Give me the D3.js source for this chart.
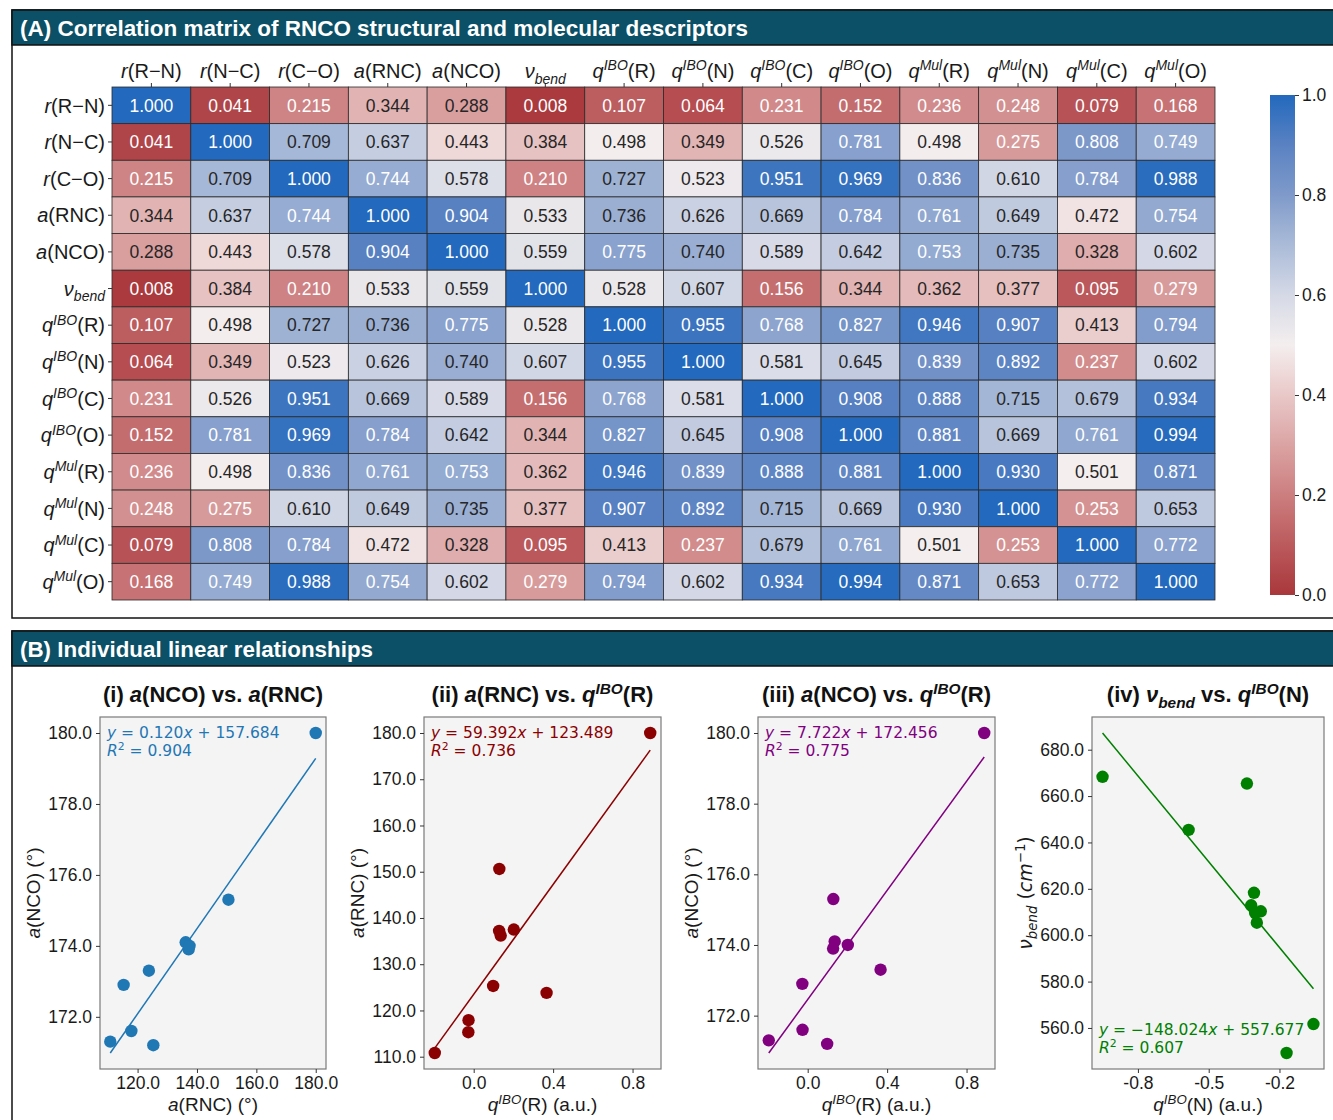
<!DOCTYPE html>
<html>
<head>
<meta charset="utf-8">
<script src="https://cdn.jsdelivr.net/npm/d3@7"></script>
<style>
  body { margin: 0; background: #fff; }
  svg text { font-family: "Liberation Sans", Arial, sans-serif; }
</style>
</head>
<body>
<svg id="fig" width="1333" height="1120"></svg>
<script>
// ---- data ----
var VARS = ["r(R−N)", "r(N−C)", "r(C−O)", "a(RNC)", "a(NCO)", "ν_bend",
            "q^IBO(R)", "q^IBO(N)", "q^IBO(C)", "q^IBO(O)",
            "q^Mul(R)", "q^Mul(N)", "q^Mul(C)", "q^Mul(O)"];

var CORR = [
  [1.000, 0.041, 0.215, 0.344, 0.288, 0.008, 0.107, 0.064, 0.231, 0.152, 0.236, 0.248, 0.079, 0.168],
  [0.041, 1.000, 0.709, 0.637, 0.443, 0.384, 0.498, 0.349, 0.526, 0.781, 0.498, 0.275, 0.808, 0.749],
  [0.215, 0.709, 1.000, 0.744, 0.578, 0.210, 0.727, 0.523, 0.951, 0.969, 0.836, 0.610, 0.784, 0.988],
  [0.344, 0.637, 0.744, 1.000, 0.904, 0.533, 0.736, 0.626, 0.669, 0.784, 0.761, 0.649, 0.472, 0.754],
  [0.288, 0.443, 0.578, 0.904, 1.000, 0.559, 0.775, 0.740, 0.589, 0.642, 0.753, 0.735, 0.328, 0.602],
  [0.008, 0.384, 0.210, 0.533, 0.559, 1.000, 0.528, 0.607, 0.156, 0.344, 0.362, 0.377, 0.095, 0.279],
  [0.107, 0.498, 0.727, 0.736, 0.775, 0.528, 1.000, 0.955, 0.768, 0.827, 0.946, 0.907, 0.413, 0.794],
  [0.064, 0.349, 0.523, 0.626, 0.740, 0.607, 0.955, 1.000, 0.581, 0.645, 0.839, 0.892, 0.237, 0.602],
  [0.231, 0.526, 0.951, 0.669, 0.589, 0.156, 0.768, 0.581, 1.000, 0.908, 0.888, 0.715, 0.679, 0.934],
  [0.152, 0.781, 0.969, 0.784, 0.642, 0.344, 0.827, 0.645, 0.908, 1.000, 0.881, 0.669, 0.761, 0.994],
  [0.236, 0.498, 0.836, 0.761, 0.753, 0.362, 0.946, 0.839, 0.888, 0.881, 1.000, 0.930, 0.501, 0.871],
  [0.248, 0.275, 0.610, 0.649, 0.735, 0.377, 0.907, 0.892, 0.715, 0.669, 0.930, 1.000, 0.253, 0.653],
  [0.079, 0.808, 0.784, 0.472, 0.328, 0.095, 0.413, 0.237, 0.679, 0.761, 0.501, 0.253, 1.000, 0.772],
  [0.168, 0.749, 0.988, 0.754, 0.602, 0.279, 0.794, 0.602, 0.934, 0.994, 0.871, 0.653, 0.772, 1.000]
];
var CBAR_TICKS = [0, 0.2, 0.4, 0.6, 0.8, 1.0];

// one entry per molecule (panels i-iii)
var aRNC  = [180.0, 150.6, 136.2, 137.2, 137.5, 123.8, 125.3, 117.9, 115.3, 110.8];
var aNCO  = [180.0, 175.3, 174.1, 173.9, 174.0, 173.3, 171.2, 171.6, 172.9, 171.3];
var qIboR = [0.889, 0.129, 0.136, 0.128, 0.202, 0.367, 0.098, -0.026, -0.027, -0.196];
// panel iv
var qIboN = [-0.875, -0.365, -0.571, -0.340, -0.350, -0.316, -0.336, -0.330, -0.225, -0.130];
var vBend = [668.3, 665.4, 645.4, 618.3, 612.9, 610.3, 609.6, 605.4, 549.2, 561.7];

var FIT_SLOPE = [0.120, 59.392, 7.722, -148.024];
var FIT_INTERCEPT = [157.684, 123.489, 172.456, 557.677];
var FIT_R2 = [0.904, 0.736, 0.775, 0.607];

var X_TICKS = [[120, 140, 160, 180], [0, 0.4, 0.8], [0, 0.4, 0.8], [-0.75, -0.5, -0.25]];
var X_TICK_TEXT = [null, null, null, ["-0.8", "-0.5", "-0.2"]];
var Y_TICKS = [[172, 174, 176, 178, 180], [110, 120, 130, 140, 150, 160, 170, 180],
               [172, 174, 176, 178, 180], [560, 580, 600, 620, 640, 660, 680]];

// ---- styles ----
var HEADER_FILL = "#0b5066";
var VLAG_R = ["#a9373b", "#bb5a5d", "#cc7e7f", "#dba3a3", "#e9c8c8", "#f4eeee",
              "#d5d9e6", "#aabbd8", "#7f9aca", "#5a82c2", "#2369bd"];
var MONO = "'DejaVu Sans', sans-serif";

var svg = d3.select("#fig");
svg.append("rect").attr("width", 1333).attr("height", 1120).attr("fill", "#fff");

var color = d3.scaleLinear()
    .domain(d3.range(VLAG_R.length).map(function(i) { return i / (VLAG_R.length - 1); }))
    .range(VLAG_R)
    .interpolate(d3.interpolateRgb);

// split a label like "q^IBO(R)" or "ν_bend" into styled pieces
function parseVar(s) {
    var m = s.match(/^(.)(?:\^([A-Za-z]+)|_([A-Za-z]+))?(.*)$/);
    var out = [{t: m[1], i: true}];
    if (m[2]) out.push({t: m[2], i: true, s: "sup"});
    if (m[3]) out.push({t: m[3], i: true, s: "sub"});
    if (m[4]) out.push({t: m[4]});
    return out;
}

// write styled pieces into a text element
function richText(text, parts, fs) {
    var shift = 0;
    parts.forEach(function(p) {
        var target = p.s === "sup" ? -0.38 * fs : p.s === "sub" ? 0.28 * fs : 0;
        var ts = text.append("tspan").text(p.t)
            .attr("font-size", p.s ? fs * 0.7 : fs);
        if (target - shift !== 0) ts.attr("dy", target - shift);
        if (p.i) ts.attr("font-style", "italic");
        if (p.f) ts.style("font-family", p.f);
        shift = target;
    });
    return text;
}

function luminance(c) {
    var rgb = d3.rgb(c);
    var lin = [rgb.r, rgb.g, rgb.b].map(function(v) {
        v /= 255;
        return v <= 0.03928 ? v / 12.92 : Math.pow((v + 0.055) / 1.055, 2.4);
    });
    return 0.2126 * lin[0] + 0.7152 * lin[1] + 0.0722 * lin[2];
}

// ---- panel frames ----
function panelFrame(y, h, title, titleLen) {
    svg.append("rect").attr("x", 12).attr("y", y).attr("width", 1340).attr("height", h)
        .attr("fill", "#fff").attr("stroke", "#111").attr("stroke-width", 1.5);
    svg.append("rect").attr("x", 12).attr("y", y).attr("width", 1340).attr("height", 35)
        .attr("fill", HEADER_FILL).attr("stroke", "#111").attr("stroke-width", 1.5);
    svg.append("text").attr("x", 20).attr("y", y + 25.5)
        .attr("fill", "#fff").attr("font-weight", "bold").attr("font-size", 22)
        .style("font-family", "'Liberation Sans Narrow', 'Liberation Sans', sans-serif")
        .attr("textLength", titleLen).attr("lengthAdjust", "spacingAndGlyphs")
        .text(title);
}
panelFrame(10, 608, "(A) Correlation matrix of RNCO structural and molecular descriptors", 728);
panelFrame(631, 520, "(B) Individual linear relationships", 353);

// ---- heatmap ----
var hx = d3.scaleBand().domain(d3.range(VARS.length)).range([112, 1215]);
var hy = d3.scaleBand().domain(d3.range(VARS.length)).range([87, 600]);
var hm = svg.append("g");

var cells = [];
CORR.forEach(function(row, r) {
    row.forEach(function(v, c) { cells.push({r: r, c: c, v: v}); });
});

hm.selectAll("rect.cell").data(cells).enter().append("rect")
    .attr("class", "cell")
    .attr("x", function(d) { return hx(d.c); })
    .attr("y", function(d) { return hy(d.r); })
    .attr("width", hx.bandwidth())
    .attr("height", hy.bandwidth())
    .attr("fill", function(d) { return color(d.v); })
    .attr("stroke", "#2a2a2a").attr("stroke-width", 0.8);

hm.selectAll("text.val").data(cells).enter().append("text")
    .attr("class", "val")
    .attr("x", function(d) { return hx(d.c) + hx.bandwidth() / 2; })
    .attr("y", function(d) { return hy(d.r) + hy.bandwidth() / 2; })
    .attr("dy", "0.36em")
    .attr("text-anchor", "middle")
    .attr("font-size", 17.5)
    .attr("fill", function(d) { return luminance(color(d.v)) > 0.408 ? "#262626" : "#fff"; })
    .text(function(d) { return d3.format(".3f")(d.v); });

var LABEL_FS = 20;
var colAxis = hm.append("g").attr("transform", "translate(0,87)")
    .call(d3.axisTop(hx).tickSize(4).tickFormat(""));
var rowAxis = hm.append("g").attr("transform", "translate(112,0)")
    .call(d3.axisLeft(hy).tickSize(4).tickFormat(""));
[colAxis, rowAxis].forEach(function(a) {
    a.select(".domain").remove();
    a.selectAll(".tick line").attr("stroke", "#333");
});
colAxis.selectAll(".tick").append("text")
    .attr("y", -9).attr("text-anchor", "middle").attr("fill", "#1a1a1a")
    .each(function(i) { richText(d3.select(this), parseVar(VARS[i]), LABEL_FS); });
rowAxis.selectAll(".tick").append("text")
    .attr("x", -7).attr("y", LABEL_FS * 0.36).attr("text-anchor", "end").attr("fill", "#1a1a1a")
    .each(function(i) { richText(d3.select(this), parseVar(VARS[i]), LABEL_FS); });

// colour bar
var cbY = d3.scaleLinear().domain([0, 1]).range([595, 95]);
var grad = svg.append("defs").append("linearGradient").attr("id", "cbar")
    .attr("x1", 0).attr("y1", 1).attr("x2", 0).attr("y2", 0);
d3.range(0, 1.0001, 0.05).forEach(function(t) {
    grad.append("stop").attr("offset", t).attr("stop-color", color(t));
});
svg.append("rect").attr("x", 1270).attr("y", 95).attr("width", 25).attr("height", 500)
    .attr("fill", "url(#cbar)");
var cbAxis = svg.append("g").attr("transform", "translate(1295,0)")
    .call(d3.axisRight(cbY).tickValues(CBAR_TICKS).tickSize(4).tickPadding(3).tickFormat(d3.format(".1f")));
cbAxis.select(".domain").remove();
cbAxis.selectAll(".tick line").attr("stroke", "#333");
cbAxis.selectAll(".tick text").attr("font-size", 17.5).attr("fill", "#1a1a1a")
    .style("font-family", "'Liberation Sans', Arial, sans-serif");

// ---- scatter panels ----
var PLOT_TOP = 717, PLOT_BOTTOM = 1069;
var panels = [
    {x: aRNC, y: aNCO, color: "#1f77b4", left: 100, right: 326, eq: "top",
     title: [{t: "(i) "}].concat(parseVar("a(NCO)"), [{t: " vs. "}], parseVar("a(RNC)")),
     xLabel: parseVar("a(RNC)").concat([{t: " (°)"}]),
     yLabel: parseVar("a(NCO)").concat([{t: " (°)"}])},
    {x: qIboR, y: aRNC, color: "#8b0000", left: 424, right: 661, eq: "top",
     title: [{t: "(ii) "}].concat(parseVar("a(RNC)"), [{t: " vs. "}], parseVar("q^IBO(R)")),
     xLabel: parseVar("q^IBO(R)").concat([{t: " (a.u.)"}]),
     yLabel: parseVar("a(RNC)").concat([{t: " (°)"}])},
    {x: qIboR, y: aNCO, color: "#800080", left: 758, right: 995, eq: "top",
     title: [{t: "(iii) "}].concat(parseVar("a(NCO)"), [{t: " vs. "}], parseVar("q^IBO(R)")),
     xLabel: parseVar("q^IBO(R)").concat([{t: " (a.u.)"}]),
     yLabel: parseVar("a(NCO)").concat([{t: " (°)"}])},
    {x: qIboN, y: vBend, color: "#008000", left: 1092, right: 1324, eq: "bottom",
     title: [{t: "(iv) "}].concat(parseVar("ν_bend"), [{t: " vs. "}], parseVar("q^IBO(N)")),
     xLabel: parseVar("q^IBO(N)").concat([{t: " (a.u.)"}]),
     yLabel: parseVar("ν_bend").concat([{t: " ("}, {t: "cm", i: true}, {t: "−1", s: "sup"}, {t: ")"}])
        .map(function(p) { p.f = MONO; return p; })}
];

panels.forEach(function(p, k) {
    var pts = p.x.map(function(v, i) { return [v, p.y[i]]; });
    var x0 = d3.min(p.x), x1 = d3.max(p.x);
    var line = [[x0, FIT_SLOPE[k] * x0 + FIT_INTERCEPT[k]], [x1, FIT_SLOPE[k] * x1 + FIT_INTERCEPT[k]]];
    var yAll = p.y.concat([line[0][1], line[1][1]]);
    var xPad = (x1 - x0) * 0.05;
    var yMin = d3.min(yAll), yMax = d3.max(yAll), yPad = (yMax - yMin) * 0.05;

    var x = d3.scaleLinear().domain([x0 - xPad, x1 + xPad]).range([p.left, p.right]);
    var y = d3.scaleLinear().domain([yMin - yPad, yMax + yPad]).range([PLOT_BOTTOM, PLOT_TOP]);
    var g = svg.append("g");

    g.append("rect").attr("x", p.left).attr("y", PLOT_TOP)
        .attr("width", p.right - p.left).attr("height", PLOT_BOTTOM - PLOT_TOP)
        .attr("fill", "#f4f4f4");

    g.append("line")
        .attr("x1", x(line[0][0])).attr("y1", y(line[0][1]))
        .attr("x2", x(line[1][0])).attr("y2", y(line[1][1]))
        .attr("stroke", p.color).attr("stroke-width", 1.5);

    g.selectAll("circle").data(pts).enter().append("circle")
        .attr("cx", function(d) { return x(d[0]); })
        .attr("cy", function(d) { return y(d[1]); })
        .attr("r", 6.2)
        .attr("fill", p.color);

    g.append("rect").attr("x", p.left).attr("y", PLOT_TOP)
        .attr("width", p.right - p.left).attr("height", PLOT_BOTTOM - PLOT_TOP)
        .attr("fill", "none").attr("stroke", "#7a7a7a").attr("stroke-width", 1.2);

    var xAxis = d3.axisBottom(x).tickValues(X_TICKS[k]).tickSize(4).tickPadding(4)
        .tickFormat(function(d, i) { return X_TICK_TEXT[k] ? X_TICK_TEXT[k][i] : d3.format(".1f")(d).replace("−", "-"); });
    var yAxis = d3.axisLeft(y).tickValues(Y_TICKS[k]).tickSize(4).tickPadding(4)
        .tickFormat(d3.format(".1f"));
    var ax = g.append("g").attr("transform", "translate(0," + PLOT_BOTTOM + ")").call(xAxis);
    var ay = g.append("g").attr("transform", "translate(" + p.left + ",0)").call(yAxis);
    [ax, ay].forEach(function(a) {
        a.select(".domain").remove();
        a.selectAll(".tick line").attr("stroke", "#333");
        a.selectAll(".tick text").attr("font-size", 17.5).attr("fill", "#1a1a1a")
            .style("font-family", "'Liberation Sans', Arial, sans-serif");
    });

    var cx = (p.left + p.right) / 2;
    richText(g.append("text").attr("x", cx).attr("y", 702).attr("text-anchor", "middle")
        .attr("font-weight", "bold").attr("fill", "#111"), p.title, 22);
    richText(g.append("text").attr("x", cx).attr("y", 1111).attr("text-anchor", "middle")
        .attr("fill", "#1a1a1a"), p.xLabel, 19);
    richText(g.append("text").attr("text-anchor", "middle").attr("fill", "#1a1a1a")
        .attr("transform", "translate(" + (p.left - 60) + "," + ((PLOT_TOP + PLOT_BOTTOM) / 2) + ") rotate(-90)"),
        p.yLabel, 19);

    // fit annotation
    var eqY = p.eq === "top" ? PLOT_TOP + 21 : PLOT_BOTTOM - 34;
    var sign = FIT_INTERCEPT[k] >= 0 ? " + " : " − ";
    var t1 = g.append("text").attr("x", p.left + 7).attr("y", eqY).attr("fill", p.color)
        .style("font-family", MONO);
    richText(t1, [{t: "y", i: true}, {t: " = " + d3.format(".3f")(FIT_SLOPE[k])}, {t: "x", i: true},
                  {t: sign + d3.format(".3f")(Math.abs(FIT_INTERCEPT[k]))}], 15.5);
    var t2 = g.append("text").attr("x", p.left + 7).attr("y", eqY + 17.5).attr("fill", p.color)
        .style("font-family", MONO);
    richText(t2, [{t: "R", i: true}, {t: "2", s: "sup"}, {t: " = " + d3.format(".3f")(FIT_R2[k])}], 15.5);
});
</script>
</body>
</html>
